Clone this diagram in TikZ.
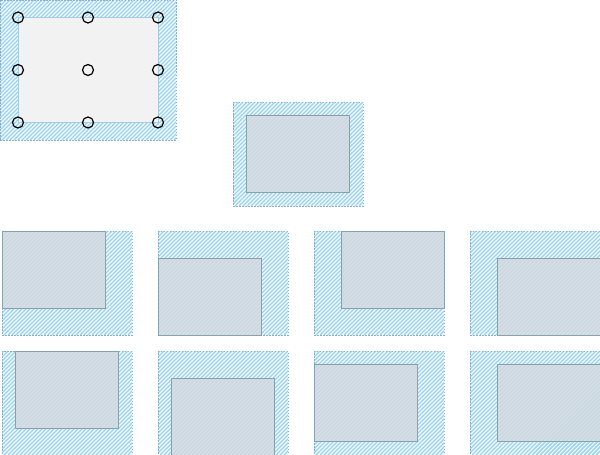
\documentclass[tikz,border=0pt]{standalone}
\definecolor{hatchblue}{RGB}{145,210,240}
\definecolor{framedash}{RGB}{140,175,200}
\definecolor{boxgray}{RGB}{210,216,222}
\definecolor{boxline}{RGB}{135,162,172}
\definecolor{biggray}{RGB}{242,242,242}
\definecolor{bigline}{RGB}{165,205,225}
\tikzset{
  frame/.style={draw=framedash, line width=0.8pt, dash pattern=on 1.5pt off 1.5pt, fill=white,
    path picture={\foreach \k in {-150,-146,...,190}
      \draw[hatchblue, line width=1.4pt, solid] ([xshift=\k pt]path picture bounding box.south west) -- ++(200pt,200pt);},
    minimum width=130pt, minimum height=104pt, inner sep=0pt, outer sep=0pt},
  box/.style={draw=boxline, line width=1pt, fill=boxgray, fill opacity=0.8,
    minimum width=103pt, minimum height=77pt, inner sep=0pt, outer sep=0pt},
  bigbox/.style={draw=bigline, line width=0.6pt, fill=biggray,
    minimum width=140pt, minimum height=105pt, inner sep=0pt, outer sep=0pt}
}
\begin{document}
\begin{tikzpicture}[x=1pt,y=-1pt]
\useasboundingbox (0,0) rectangle (600,455);
\node[frame, minimum width=176pt, minimum height=140pt, anchor=north west] (big) at (0,0) {};
\node[bigbox] (bigin) at (big.center) {};
\foreach \a in {north west,north,north east,west,center,east,south west,south,south east}
    \draw[line width=1.2pt] (bigin.\a) circle (5.5pt);
\node[frame, anchor=north west] (mid) at (233,102) {};
\node[box] (midin) at (mid.center) {};
\foreach \x/\a [count=\i] in {2/north west,158/south west,314/north east,470/south east} {
    \node[frame, anchor=north west] (A\i) at (\x,231) {};
    \node[box, anchor=\a] (a\i) at (A\i.\a) {};
}
\foreach \x/\a [count=\i] in {2/north,158/south,314/west,470/east} {
    \node[frame, anchor=north west] (B\i) at (\x,351) {};
    \node[box, anchor=\a] (b\i) at (B\i.\a) {};
}
\end{tikzpicture}
\end{document}
